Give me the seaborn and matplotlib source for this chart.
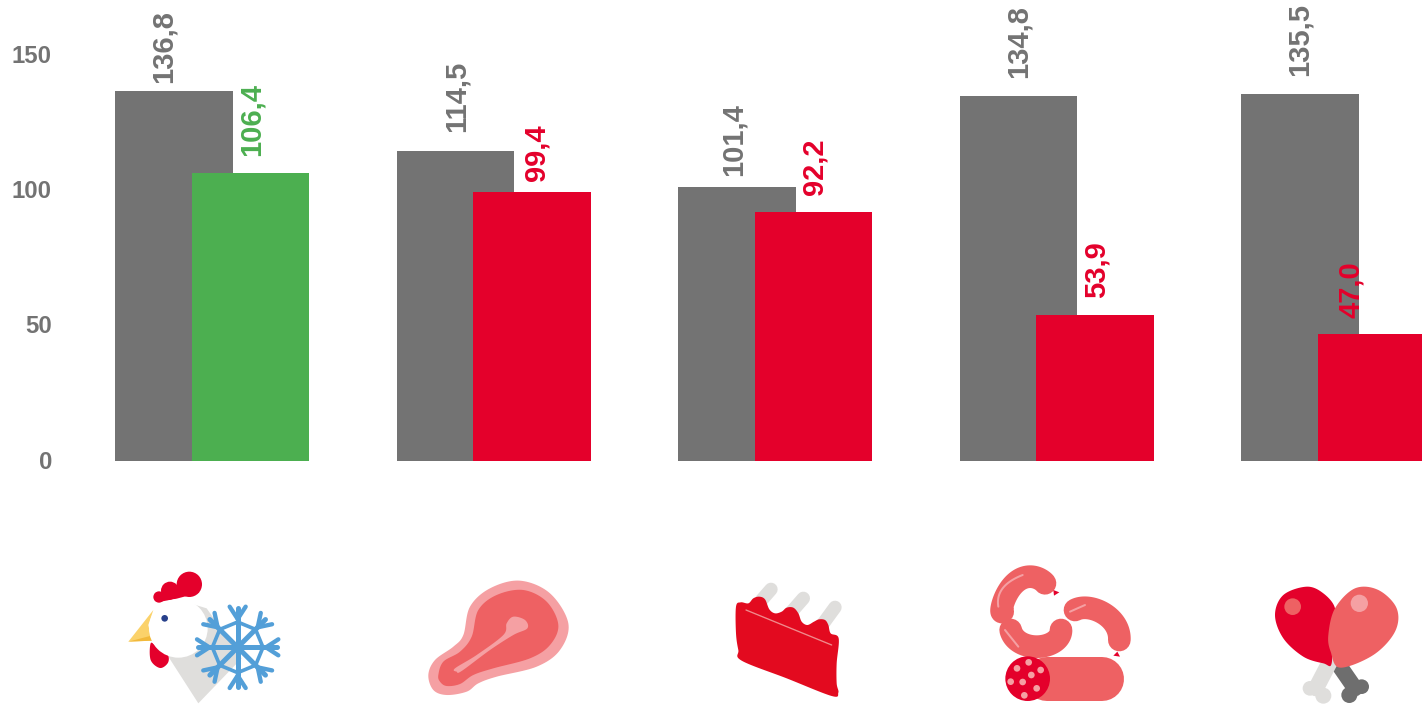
"""
Meat prices, reference vs current, with product pictograms under the bars.
"""
import matplotlib
matplotlib.use("Agg")
import matplotlib.pyplot as plt
from matplotlib.patches import Circle, Polygon
from matplotlib.transforms import ScaledTranslation
import seaborn as sns
import pandas as pd
import numpy as np

products = ["frozen chicken", "ham", "ribs", "sausage", "poultry"]
previous = [136.8, 114.5, 101.4, 134.8, 135.5]
current = [106.4, 99.4, 92.2, 53.9, 47.0]
y_ticks = [0, 50, 100, 150]

GRAY = "#737373"
GREEN = "#4CAF50"
RED = "#E4002B"
CORAL = "#EE6163"
PINK = "#F5A0A3"
BONE = "#DFDEDC"
BLUE = "#539FD8"

sns.set_theme(style="white")
plt.rcParams["font.family"] = ["Liberation Sans", "DejaVu Sans"]

df = pd.DataFrame({
    "product": products * 2,
    "series": ["previous"] * 5 + ["current"] * 5,
    "value": previous + current,
})

fig = plt.figure(figsize=(14.22, 7.04), dpi=100, facecolor="white")
ax = fig.add_axes([0, 0, 1, 1])
sns.barplot(data=df, x="product", y="value", hue="series", order=products,
            hue_order=["previous", "current"], palette=[GRAY, RED],
            width=0.5435, gap=-0.542, saturation=1, legend=False,
            linewidth=0, edgecolor="none", ax=ax)
ax.set_xlim(-0.754, 4.2975)
ax.set_ylim(-89.8, 170.4)
sns.despine(ax=ax, left=True, bottom=True)
ax.set_xlabel("")
ax.set_ylabel("")
ax.set_xticks([])
ax.set_yticks(y_ticks)
ax.tick_params(axis="y", length=0, pad=-37.4, labelsize=17.3, labelcolor=GRAY)
nudge = ScaledTranslation(0, 1.5 / 100, fig.dpi_scale_trans)
for lab in ax.get_yticklabels():
    lab.set_fontweight("bold")
    lab.set_ha("right")
    lab.set_transform(lab.get_transform() + nudge)

gray_bars, cur_bars = ax.containers
cur_bars[0].set_facecolor(GREEN)

# label offsets in pixels from the top centre of each bar (dx, dy)
prev_off = [(-10, 8), (1, 19), (-3, 11), (0, 18), (0, 18)]
cur_off = [(1, 17), (4, 11), (1, 17), (2, 17), (-26, 16)]


def label(bar, val, off, color):
    x = bar.get_x() + bar.get_width() / 2
    ax.annotate(f"{val:.1f}".replace(".", ","), xy=(x, val), xytext=off,
                textcoords="offset pixels", rotation=90, ha="center",
                va="bottom", fontsize=21, fontweight="bold", color=color,
                annotation_clip=False)


for bar, val, off in zip(gray_bars, previous, prev_off):
    label(bar, val, off, GRAY)
for i, (bar, val, off) in enumerate(zip(cur_bars, current, cur_off)):
    label(bar, val, off, GREEN if i == 0 else RED)

# pictograms, drawn on a pixel canvas over the chart
ic = fig.add_axes([0, 0, 1, 1])
ic.set_xlim(0, 1422)
ic.set_ylim(704, 0)
ic.axis("off")
ic.patch.set_alpha(0)


def zp(pts, x0, y0):
    return [(x0 + x / 3, y0 + y / 3) for x, y in pts]


def smooth(pts, n=14):
    """Closed Catmull-Rom curve through pts."""
    p = np.array(pts, dtype=float)
    out = []
    for i in range(len(p)):
        a, b, c, d = p[i - 1], p[i], p[(i + 1) % len(p)], p[(i + 2) % len(p)]
        for t in np.linspace(0, 1, n, endpoint=False):
            out.append(0.5 * (2 * b + (c - a) * t
                              + (2 * a - 5 * b + 4 * c - d) * t ** 2
                              + (3 * b - a - 3 * c + d) * t ** 3))
    return np.array(out)


def blob(pts, color, x0, y0, z=2):
    ic.add_patch(Polygon(smooth(zp(pts, x0, y0)), closed=True, fc=color,
                         ec="none", zorder=z))


def poly(pts, color, x0, y0, z=2):
    ic.add_patch(Polygon(zp(pts, x0, y0), closed=True, fc=color, ec="none",
                         zorder=z))


def dot(x, y, r, color, x0, y0, z=2):
    ic.add_patch(Circle((x0 + x / 3, y0 + y / 3), r / 3, fc=color, ec="none",
                        zorder=z))


def stroke(pts, color, w, x0, y0, z=2, curve=False):
    """Round-capped line, w in crop pixels."""
    q = np.array(zp(pts, x0, y0))
    if curve:
        t = np.arange(len(q))
        tt = np.linspace(0, len(q) - 1, 60)
        c = np.polyfit(t, q, min(len(q) - 1, 4))
        q = np.column_stack([np.polyval(c[:, 0], tt), np.polyval(c[:, 1], tt)])
    ic.plot(q[:, 0], q[:, 1], color=color, lw=w / 3 * 0.72,
            solid_capstyle="round", solid_joinstyle="round", zorder=z)


# chicken with snowflake
X, Y = 110, 550
poly([(175, 320), (265, 460), (395, 325), (290, 175), (240, 160)], BONE, X, Y, 2)
poly([(130, 180), (55, 275), (125, 272), (115, 225)], "#FBD26A", X, Y, 2)
poly([(55, 275), (120, 258), (127, 272)], "#F2B93B", X, Y, 2)
blob([(122, 280), (122, 330), (150, 354), (174, 338), (172, 312), (140, 290)],
     RED, X, Y, 2)
dot(238, 103, 38, RED, X, Y, 2)
dot(180, 122, 27, RED, X, Y, 2)
dot(147, 141, 17, RED, X, Y, 2)
poly([(147, 156), (200, 146), (268, 128), (235, 110), (180, 118)], RED, X, Y, 2)
dot(205, 235, 88, "white", X, Y, 3)
dot(164, 205, 10, "#27408B", X, Y, 4)
cx, cy = 383, 292
for ang in np.deg2rad(np.arange(0, 360, 45)):
    u = np.array([np.cos(ang), np.sin(ang)])
    v = np.array([-u[1], u[0]])
    c0 = np.array([cx, cy])
    stroke([c0, c0 + 118 * u], BLUE, 15, X, Y, 5)
    stroke([c0 + 85 * u, c0 + 122 * u + 24 * v], BLUE, 13, X, Y, 5)
    stroke([c0 + 85 * u, c0 + 122 * u - 24 * v], BLUE, 13, X, Y, 5)
    w = np.array([np.cos(ang + np.pi / 4), np.sin(ang + np.pi / 4)])
    stroke([c0 + 76 * u, c0 + 76 * w], BLUE, 11, X, Y, 5)

# ham steak
X, Y = 410, 560
blob([(55, 345), (75, 300), (130, 260), (160, 225), (180, 140), (240, 85),
      (330, 62), (420, 100), (475, 190), (450, 270), (380, 320), (260, 350),
      (205, 370), (170, 395), (110, 405), (70, 390)], PINK, X, Y)
blob([(85, 345), (100, 305), (150, 275), (185, 230), (205, 150), (260, 105),
      (340, 90), (410, 125), (445, 195), (420, 255), (360, 295), (250, 325),
      (190, 345), (150, 372), (110, 378), (90, 365)], CORAL, X, Y, 3)
blob([(135, 325), (200, 285), (280, 225), (290, 190), (310, 170), (345, 180),
      (352, 205), (310, 225), (240, 270), (155, 333), (140, 335)], PINK, X, Y, 4)

# ribs
X, Y = 720, 570
stroke([(125, 90), (153, 58)], BONE, 40, X, Y, 2)
stroke([(215, 125), (250, 85)], BONE, 40, X, Y, 2)
stroke([(310, 160), (345, 112)], BONE, 40, X, Y, 2)
blob([(48, 110), (62, 97), (85, 100), (100, 85), (118, 80), (135, 88),
      (148, 118), (165, 130), (185, 125), (200, 113), (220, 113), (235, 130),
      (245, 155), (262, 165), (282, 155), (297, 148), (315, 150), (325, 165),
      (332, 190), (356, 205), (350, 280), (350, 340), (355, 368), (335, 378),
      (200, 325), (65, 272), (55, 240), (48, 190)], "#E30A1F", X, Y, 3)
stroke([(78, 120), (335, 225)], "#F08A8C", 4, X, Y, 4)

# sausages
X, Y = 980, 555
stroke([(195, 85), (170, 68), (130, 70), (90, 100), (68, 150), (68, 170)],
       CORAL, 68, X, Y, 2, curve=True)
stroke([(92, 225), (120, 262), (170, 275), (220, 262), (243, 225)],
       CORAL, 68, X, Y, 2, curve=True)
stroke([(285, 165), (340, 162), (395, 195), (418, 255)],
       CORAL, 68, X, Y, 2, curve=True)
stroke([(200, 371), (365, 371)], CORAL, 132, X, Y, 2)
dot(143, 371, 67, RED, X, Y, 3)
for px, py in [(146, 322), (111, 340), (182, 345), (154, 360), (92, 380),
               (128, 381), (170, 400), (133, 421)]:
    dot(px, py, 10, PINK, X, Y, 4)
poly([(220, 105), (238, 112), (222, 122)], RED, X, Y, 3)
poly([(400, 302), (420, 305), (412, 290)], RED, X, Y, 3)
stroke([(55, 155), (68, 100), (128, 60)], PINK, 6, X, Y, 4, curve=True)
stroke([(75, 225), (115, 275)], PINK, 6, X, Y, 4)
stroke([(270, 170), (315, 150)], PINK, 6, X, Y, 4)

# drumsticks
X, Y = 1260, 575
stroke([(240, 275), (285, 340)], "#6E6E6E", 48, X, Y, 2)
dot(305, 335, 22, "#6E6E6E", X, Y, 2)
dot(268, 360, 24, "#6E6E6E", X, Y, 2)
stroke([(215, 250), (168, 340)], BONE, 48, X, Y, 3)
dot(150, 340, 22, BONE, X, Y, 3)
dot(190, 362, 24, BONE, X, Y, 3)
blob([(45, 120), (70, 60), (140, 35), (190, 55), (225, 100), (215, 160),
      (215, 265), (190, 265), (130, 245), (70, 190)], RED, X, Y, 4)
dot(98, 95, 25, CORAL, X, Y, 5)
blob([(205, 180), (225, 100), (285, 40), (355, 45), (410, 100), (405, 170),
      (340, 240), (240, 278), (212, 230)], CORAL, X, Y, 6)
dot(298, 85, 26, PINK, X, Y, 7)

fig.savefig("out.png", dpi=100, facecolor="white")
plt.close(fig)
